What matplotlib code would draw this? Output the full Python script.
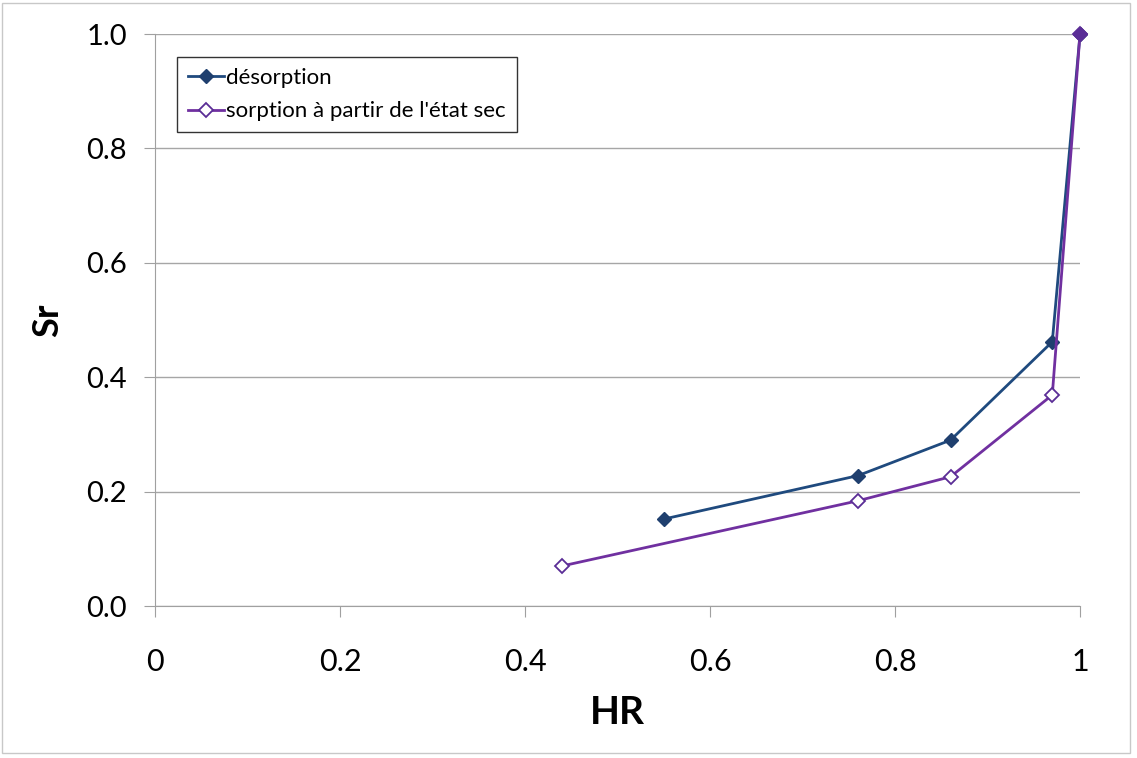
import matplotlib.pyplot as plt
from matplotlib.patches import Rectangle

# data
hr_desorption = [0.55, 0.76, 0.86, 0.97, 1.0]
sr_desorption = [0.152, 0.228, 0.290, 0.462, 1.0]
hr_sorption = [0.44, 0.76, 0.86, 0.97, 1.0]
sr_sorption = [0.070, 0.184, 0.226, 0.369, 1.0]

x_ticks = [0, 0.2, 0.4, 0.6, 0.8, 1.0]
x_labels = ['0', '0.2', '0.4', '0.6', '0.8', '1']
y_ticks = [0.0, 0.2, 0.4, 0.6, 0.8, 1.0]
y_labels = ['0.0', '0.2', '0.4', '0.6', '0.8', '1.0']

plt.rcParams['font.family'] = ['Lato', 'DejaVu Sans']

fig = plt.figure(figsize=(11.37, 7.58), dpi=100)
ax = fig.add_axes([0.1363, 0.2005, 0.8136, 0.7546])

# outer frame of the chart area
fig.patches.append(Rectangle((0.002, 0.006), 0.992, 0.99, transform=fig.transFigure,
                             fill=False, edgecolor='#c8c8c8', linewidth=1))

ax.plot(hr_desorption, sr_desorption, color='#1f4a7e', linewidth=2,
        marker='D', markersize=7.5, markerfacecolor='#1f3f6e', markeredgecolor='#1f3f6e',
        label='désorption', clip_on=False)
ax.plot(hr_sorption, sr_sorption, color='#7030a0', linewidth=2,
        marker='D', markersize=7.5, markerfacecolor='white', markeredgecolor='#5a2d96',
        markeredgewidth=1.3, label="sorption à partir de l'état sec", clip_on=False)
# shared end point shows as a filled purple diamond
ax.plot(hr_sorption[-1:], sr_sorption[-1:], linestyle='none', marker='D', markersize=7.5,
        markerfacecolor='#5a2d96', markeredgecolor='#5a2d96', clip_on=False)

ax.set_xlim(0, 1.0)
ax.set_ylim(0, 1.0)
ax.set_xticks(x_ticks)
ax.set_xticklabels(x_labels, fontsize=22)
ax.set_yticks(y_ticks)
ax.set_yticklabels(y_labels, fontsize=21)
ax.tick_params(axis='x', direction='out', length=8, color='#a0a0a0', pad=22)
ax.tick_params(axis='y', direction='out', length=8, color='#a0a0a0', pad=12)

ax.grid(axis='y', color='#a6a6a6', linewidth=1)
ax.set_axisbelow(True)
for side in ['top', 'right']:
    ax.spines[side].set_visible(False)
for side in ['left', 'bottom']:
    ax.spines[side].set_color('#a0a0a0')

ax.set_xlabel('HR', fontsize=28, fontweight='bold', labelpad=14)
ax.set_ylabel('Sr', fontsize=26, fontweight='bold', labelpad=16)

leg = ax.legend(loc='upper left', bbox_to_anchor=(0.024, 0.96), fontsize=16,
                frameon=True, fancybox=False, handlelength=1.6, handletextpad=0.1,
                borderpad=0.5, labelspacing=0.6, borderaxespad=0)
leg.get_frame().set_edgecolor('black')
leg.get_frame().set_linewidth(1)

plt.savefig('out.png', dpi=100)
